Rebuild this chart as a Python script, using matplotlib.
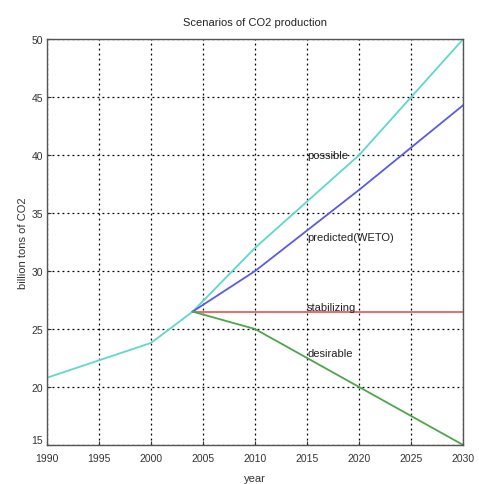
import matplotlib
matplotlib.use("Agg")
import matplotlib.pyplot as plt

# data
years_hist = [1990, 2000, 2004]
co2_hist = [20.8, 23.8, 26.5]

years_future = [2004, 2010, 2020, 2030]
co2_possible = [26.5, 32.0, 40.0, 50.0]
co2_predicted = [26.5, 30.0, 37.0, 44.3]
co2_stabilizing = [26.5, 26.5, 26.5, 26.5]
co2_desirable = [26.5, 25.0, 20.0, 15.0]

labels = ["possible", "predicted(WETO)", "stabilizing", "desirable"]
label_y = [40.0, 32.9, 26.9, 22.9]
x_ticks = list(range(1990, 2031, 5))
y_ticks = list(range(15, 51, 5))

plt.rcParams['font.family'] = ['Liberation Sans', 'DejaVu Sans']

fig = plt.figure(figsize=(4.79, 4.85), dpi=100)
ax = fig.add_axes([0.098, 0.0804, 0.869, 0.837])

ax.plot(years_hist, co2_hist, color="#5ed8cc", lw=1.3)
ax.plot(years_future, co2_possible, color="#5ed8cc", lw=1.3)
ax.plot(years_future, co2_predicted, color="#5a5ae6", lw=1.3)
ax.plot(years_future, co2_stabilizing, color="#e86060", lw=1.3)
ax.plot(years_future, co2_desirable, color="#4ea54e", lw=1.3)

for lab, yy in zip(labels, label_y):
    ax.text(2015, yy, lab, fontsize=8, va="center", ha="left", color="#222222")

ax.set_xlim(1990, 2030)
ax.set_ylim(15, 50)
ax.set_xticks(x_ticks)
ax.set_yticks(y_ticks)
ax.tick_params(direction="in", labelsize=7.5, length=3, colors="#333333")
ax.tick_params(axis="x", pad=6)
ax.tick_params(axis="y", pad=3)
# lift the bottom y label a bit so it clears the first year label
ax.get_yticklabels()[0].set_va("bottom")
ax.grid(True, color="black", linestyle=(0, (1.5, 2.5)), linewidth=0.9)
for s in ax.spines.values():
    s.set_color("#555555")
    s.set_linewidth(1.0)

ax.set_title("Scenarios of CO2 production", fontsize=8, color="#222222", pad=10)
ax.set_xlabel("year", fontsize=8, color="#333333", labelpad=7)
ax.set_ylabel("billion tons of CO2", fontsize=8, color="#333333", labelpad=2)

fig.savefig("out.png", dpi=100)
